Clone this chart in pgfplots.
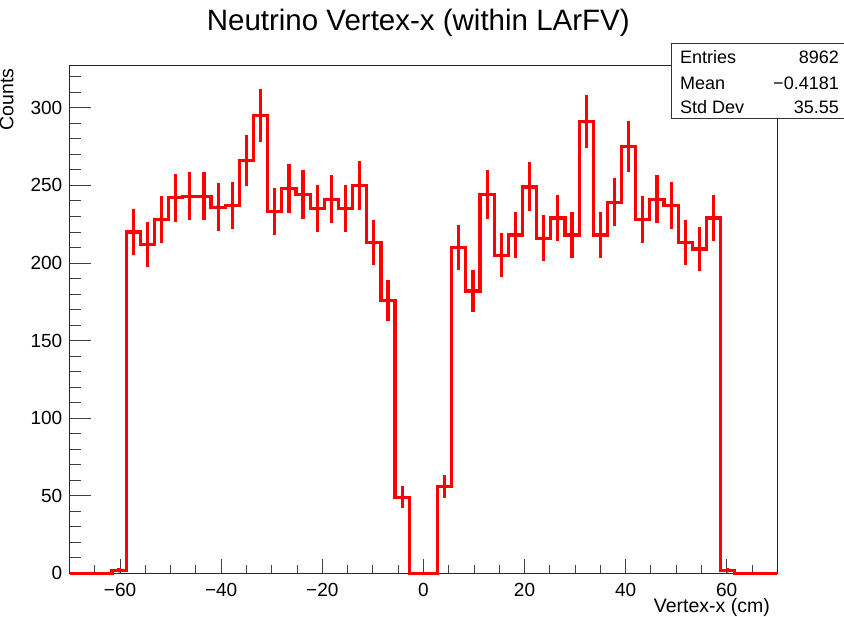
\documentclass[border=0pt]{standalone}
\usepackage{fontspec}
\setmainfont{Liberation Sans}
\usepackage{pgfplots}
\usepackage{pgfplotstable}
\pgfplotsset{compat=1.18}

% 50 bins of 2.8 cm from -70 to 70: lower edge, centre, counts, sqrt(counts)
\pgfplotstableread{
lo    c     n    e
-70.0 -68.6 0    0
-67.2 -65.8 0    0
-64.4 -63.0 0    0
-61.6 -60.2 2    1.41
-58.8 -57.4 220  14.83
-56.0 -54.6 212  14.56
-53.2 -51.8 228  15.10
-50.4 -49.0 242  15.56
-47.6 -46.2 243  15.59
-44.8 -43.4 243  15.59
-42.0 -40.6 236  15.36
-39.2 -37.8 237  15.39
-36.4 -35.0 266  16.31
-33.6 -32.2 295  17.18
-30.8 -29.4 233  15.26
-28.0 -26.6 248  15.75
-25.2 -23.8 244  15.62
-22.4 -21.0 235  15.33
-19.6 -18.2 241  15.52
-16.8 -15.4 235  15.33
-14.0 -12.6 250  15.81
-11.2 -9.8  213  14.59
-8.4  -7.0  176  13.27
-5.6  -4.2  49   7.00
-2.8  -1.4  0    0
0.0   1.4   0    0
2.8   4.2   56   7.48
5.6   7.0   210  14.49
8.4   9.8   182  13.49
11.2  12.6  244  15.62
14.0  15.4  205  14.32
16.8  18.2  218  14.76
19.6  21.0  249  15.78
22.4  23.8  216  14.70
25.2  26.6  229  15.13
28.0  29.4  218  14.76
30.8  32.2  291  17.06
33.6  35.0  218  14.76
36.4  37.8  239  15.46
39.2  40.6  275  16.58
42.0  43.4  228  15.10
44.8  46.2  241  15.52
47.6  49.0  237  15.39
50.4  51.8  213  14.59
53.2  54.6  209  14.46
56.0  57.4  229  15.13
58.8  60.2  2    1.41
61.6  63.0  0    0
64.4  65.8  0    0
67.2  68.6  0    0
70.0  70.0  0    0
}\vtxdata

\begin{document}
\begin{tikzpicture}
\useasboundingbox (0,0) rectangle (844pt,617pt);
\begin{axis}[
  at={(69.5pt,43.6pt)}, anchor=south west,
  scale only axis, width=707.8pt, height=508.4pt,
  xmin=-70, xmax=70, ymin=0, ymax=327.6,
  clip=false,
  axis line style={black!85, line width=0.9pt},
  tick align=inside,
  xtick pos=bottom, ytick pos=left,
  xtick={-60,-40,-20,0,20,40,60},
  xticklabels={−60,−40,−20,0,20,40,60},
  minor xtick={-65,-55,-50,-45,-35,-30,-25,-15,-10,-5,5,10,15,25,30,35,45,50,55,65},
  ytick={0,50,100,150,200,250,300},
  minor ytick={10,20,30,40,60,70,80,90,110,120,130,140,160,170,180,190,210,220,230,240,260,270,280,290,310,320},
  xtick style={black!75, line width=0.9pt, /pgfplots/major tick length=14.7pt},
  ytick style={black!75, line width=0.9pt, /pgfplots/major tick length=21pt},
  minor x tick style={/pgfplots/minor tick length=8pt},
  minor y tick style={/pgfplots/minor tick length=11pt},
  /pgf/number format/assume math mode=true,
  tick label style={font=\fontsize{19pt}{22pt}\selectfont},
  xticklabel style={inner sep=0pt, anchor=north, yshift=-10pt},
  yticklabel style={inner sep=0pt, anchor=east, xshift=-7pt},
  title={Neutrino Vertex-x (within LArFV)},
  title style={font=\fontsize{29.5pt}{34pt}\selectfont, inner sep=0pt,
    at={(axis description cs:0.4928,1.0557)}, anchor=base},
  xlabel={Vertex-x (cm)},
  xlabel style={font=\fontsize{19.5pt}{22pt}\selectfont, inner sep=0pt,
    at={(axis description cs:0.9897,-0.0779)}, anchor=base east},
  ylabel={Counts},
  ylabel style={font=\fontsize{19.5pt}{22pt}\selectfont, inner sep=0pt,
    at={(axis description cs:-0.0794,0.9935)}, anchor=base east, rotate=0},
]
  % histogram outline
  \addplot[red, line width=3.2pt, line join=miter, const plot mark left, mark=none]
    table[x=lo, y=n] {\vtxdata};
  % statistical error bars at the centres of the filled bins
  \addplot[red, only marks, mark=none,
    restrict y to domain=0.5:400,
    error bars/.cd, y dir=both, y explicit, error mark=none,
    error bar style={red, line width=3.2pt}]
    table[x=c, y=n, y error=e] {\vtxdata};
\end{axis}
% statistics box
\draw[black!80, line width=1pt, fill=white] (671pt,573.7pt) rectangle (850pt,498.7pt);
\begin{scope}[every node/.style={inner sep=0pt, font=\fontsize{18pt}{21pt}\selectfont}]
  \node[anchor=base west] at (680pt,553.7pt) {Entries};
  \node[anchor=base east] at (839pt,553.7pt) {8962};
  \node[anchor=base west] at (680pt,527.7pt) {Mean};
  \node[anchor=base east] at (839pt,527.7pt) {−0.4181};
  \node[anchor=base west] at (680pt,503.7pt) {Std Dev};
  \node[anchor=base east] at (839pt,503.7pt) {35.55};
\end{scope}
\end{tikzpicture}
\end{document}
